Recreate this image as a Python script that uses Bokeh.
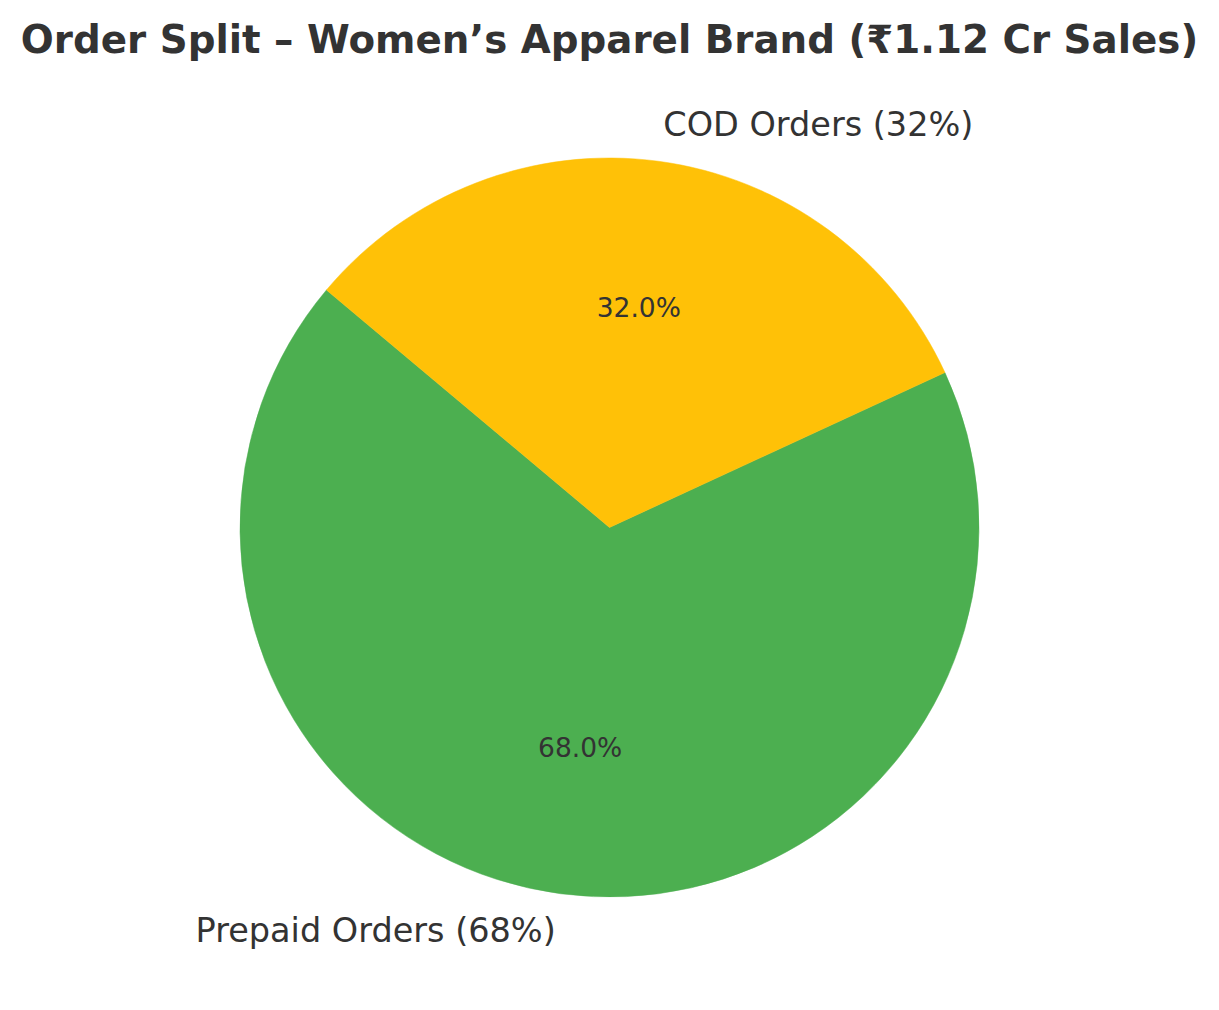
import math
from bokeh.plotting import figure
from bokeh.models import Range1d
from bokeh.core.properties import value
from bokeh.embed import file_html
from bokeh.resources import INLINE

# ---- data ----
categories = ["Prepaid Orders (68%)", "COD Orders (32%)"]
shares = [68, 32]
colors = ["#4CAF50", "#FFC107"]
title_text = "Order Split – Women’s Apparel Brand (₹1.12 Cr Sales)"
start_angle = 140.0

W, H = 1203, 994
cx, cy, R = 609.0, 527.0, 369.5

p = figure(width=W, height=H, output_backend="svg", toolbar_location=None,
           x_range=Range1d(-cx / R, (W - cx) / R),
           y_range=Range1d(-(H - cy) / R, cy / R),
           min_border=0, min_border_left=0, min_border_right=0,
           min_border_top=0, min_border_bottom=0)
p.axis.visible = False
p.grid.visible = False
p.outline_line_color = None
p.background_fill_color = "white"
p.border_fill_color = "white"

total = float(sum(shares))
a = start_angle
font = value("DejaVu Sans")
for cat, s, c in zip(categories, shares, colors):
    span = 360.0 * s / total
    a0, a1 = a, a + span
    p.wedge(x=0, y=0, radius=1.0, start_angle=math.radians(a0), end_angle=math.radians(a1),
            direction="anticlock", fill_color=c, line_color=c, line_width=0.5)
    mid = math.radians((a0 + a1) / 2)
    lx, ly = 1.1 * math.cos(mid), 1.1 * math.sin(mid)
    p.text(x=[lx], y=[ly], text=[cat], text_font=font, text_font_size="33.5px",
           text_color="#333333", text_baseline="middle",
           text_align="left" if lx > 0 else "right")
    px, py = 0.6 * math.cos(mid), 0.6 * math.sin(mid)
    p.text(x=[px], y=[py], text=[f"{100.0 * s / total:.1f}%"], text_font=font,
           text_font_size="26.5px", text_color="#333333", text_baseline="middle",
           text_align="center")
    a = a1

p.text(x=[0], y=[(cy - 39) / R], text=[title_text], text_font=font,
       text_font_size="38.8px", text_font_style="bold", text_color="#333333",
       text_baseline="middle", text_align="center")

open("out.html", "w").write(file_html(p, INLINE))
